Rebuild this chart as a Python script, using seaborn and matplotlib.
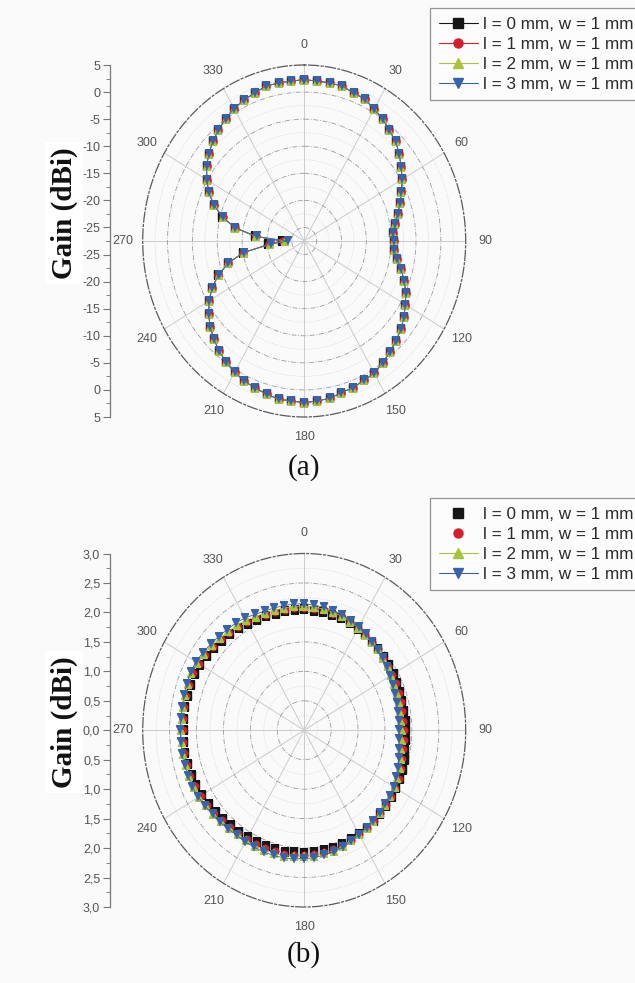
import numpy as np
import pandas as pd
import matplotlib
matplotlib.use("Agg")
import matplotlib.pyplot as plt
from matplotlib.lines import Line2D
import seaborn as sns

# Azimuth of every sample, degrees (clockwise from the top)
angles_deg = list(range(0, 360, 5))

# ---- panel (a): gain in dBi ----
gain_a_l0 = [2.30, 2.15, 2.15, 2.10, 1.60, 1.40, 0.60, 0.00, -0.80, -1.50,
             -2.50, -3.70, -4.70, -5.90, -7.00, -8.00, -9.00, -9.50, -9.50, -9.40,
             -8.50, -7.30, -6.10, -4.90, -4.00, -3.00, -2.10, -1.40, -0.70, 0.00,
             0.70, 0.90, 1.30, 1.50, 2.00, 2.15, 2.35, 2.15, 2.15, 1.80,
             1.35, 1.05, 0.50, -0.15, -0.90, -1.85, -2.80, -4.00, -5.40, -7.00,
             -9.10, -11.60, -15.00, -20.20, -23.00, -17.60, -13.30, -10.45, -8.15, -6.30,
             -4.90, -3.50, -2.45, -1.50, -0.65, 0.05, 0.75, 1.20, 1.60, 2.10,
             2.15, 2.15]
gain_a_l1 = [2.30, 2.15, 2.15, 2.10, 1.60, 1.40, 0.60, 0.00, -0.80, -1.50,
             -2.50, -3.70, -4.70, -5.90, -7.00, -8.00, -9.00, -9.50, -9.50, -9.40,
             -8.50, -7.30, -6.10, -4.90, -4.00, -3.00, -2.10, -1.40, -0.70, 0.00,
             0.70, 0.90, 1.30, 1.50, 2.00, 2.15, 2.35, 2.15, 2.15, 1.80,
             1.35, 1.05, 0.50, -0.15, -0.90, -1.85, -2.80, -4.00, -5.40, -7.05,
             -9.10, -11.60, -15.05, -20.40, -23.30, -17.70, -13.35, -10.50, -8.20, -6.30,
             -4.90, -3.50, -2.45, -1.50, -0.65, 0.05, 0.75, 1.20, 1.60, 2.10,
             2.15, 2.15]
gain_a_l2 = [2.30, 2.15, 2.15, 2.10, 1.60, 1.40, 0.60, 0.00, -0.80, -1.50,
             -2.50, -3.70, -4.70, -5.90, -7.00, -8.00, -9.00, -9.50, -9.50, -9.40,
             -8.50, -7.30, -6.10, -4.90, -4.00, -3.00, -2.10, -1.40, -0.70, 0.00,
             0.70, 0.90, 1.30, 1.50, 2.00, 2.15, 2.35, 2.15, 2.15, 1.80,
             1.35, 1.05, 0.50, -0.15, -0.90, -1.85, -2.80, -4.00, -5.40, -7.05,
             -9.15, -11.65, -15.10, -20.55, -23.70, -17.80, -13.40, -10.50, -8.20, -6.30,
             -4.90, -3.50, -2.45, -1.50, -0.65, 0.05, 0.75, 1.20, 1.60, 2.10,
             2.15, 2.15]
gain_a_l3 = [2.30, 2.15, 2.15, 2.10, 1.60, 1.40, 0.60, 0.00, -0.80, -1.50,
             -2.50, -3.70, -4.70, -5.90, -7.00, -8.00, -9.00, -9.50, -9.50, -9.40,
             -8.50, -7.30, -6.10, -4.90, -4.00, -3.00, -2.10, -1.40, -0.70, 0.00,
             0.70, 0.90, 1.30, 1.50, 2.00, 2.15, 2.35, 2.15, 2.15, 1.80,
             1.35, 1.05, 0.50, -0.15, -0.90, -1.85, -2.80, -4.00, -5.40, -7.05,
             -9.15, -11.65, -15.10, -20.70, -24.20, -17.90, -13.40, -10.50, -8.20, -6.30,
             -4.90, -3.50, -2.45, -1.50, -0.65, 0.05, 0.75, 1.20, 1.60, 2.10,
             2.15, 2.15]

# ---- panel (b): gain in dBi ----
gain_b_l0 = [2.05, 2.04, 2.04, 2.03, 2.02, 2.01, 1.99, 1.98, 1.96, 1.95,
             1.94, 1.93, 1.92, 1.91, 1.90, 1.89, 1.89, 1.89, 1.89, 1.90,
             1.91, 1.93, 1.95, 1.96, 1.97, 1.98, 1.99, 2.00, 2.01, 2.02,
             2.03, 2.04, 2.06, 2.07, 2.07, 2.08, 2.08, 2.08, 2.09, 2.09,
             2.09, 2.09, 2.10, 2.10, 2.11, 2.13, 2.15, 2.17, 2.19, 2.21,
             2.22, 2.23, 2.24, 2.24, 2.24, 2.24, 2.24, 2.24, 2.24, 2.24,
             2.23, 2.21, 2.18, 2.15, 2.13, 2.11, 2.09, 2.07, 2.06, 2.05,
             2.05, 2.05]
gain_b_l1 = [2.08, 2.07, 2.07, 2.05, 2.04, 2.02, 2.00, 1.98, 1.96, 1.94,
             1.92, 1.91, 1.89, 1.88, 1.87, 1.86, 1.85, 1.85, 1.85, 1.86,
             1.87, 1.89, 1.92, 1.94, 1.95, 1.97, 1.98, 1.99, 2.01, 2.02,
             2.04, 2.05, 2.08, 2.09, 2.10, 2.11, 2.11, 2.12, 2.13, 2.13,
             2.13, 2.13, 2.13, 2.13, 2.14, 2.16, 2.18, 2.20, 2.22, 2.24,
             2.25, 2.25, 2.26, 2.26, 2.26, 2.26, 2.26, 2.27, 2.27, 2.28,
             2.26, 2.24, 2.21, 2.18, 2.16, 2.14, 2.12, 2.10, 2.09, 2.08,
             2.08, 2.08]
gain_b_l2 = [2.11, 2.10, 2.09, 2.07, 2.06, 2.03, 2.01, 1.98, 1.95, 1.94,
             1.91, 1.89, 1.87, 1.85, 1.84, 1.82, 1.81, 1.81, 1.81, 1.82,
             1.83, 1.86, 1.89, 1.91, 1.94, 1.95, 1.97, 1.99, 2.00, 2.02,
             2.04, 2.06, 2.09, 2.12, 2.12, 2.14, 2.14, 2.15, 2.16, 2.16,
             2.16, 2.16, 2.16, 2.15, 2.16, 2.18, 2.20, 2.22, 2.25, 2.26,
             2.27, 2.27, 2.28, 2.28, 2.28, 2.28, 2.28, 2.29, 2.30, 2.31,
             2.29, 2.27, 2.24, 2.21, 2.19, 2.18, 2.16, 2.13, 2.12, 2.11,
             2.11, 2.11]
gain_b_l3 = [2.15, 2.13, 2.12, 2.10, 2.08, 2.05, 2.02, 1.99, 1.95, 1.93,
             1.90, 1.87, 1.84, 1.82, 1.80, 1.78, 1.77, 1.76, 1.76, 1.77,
             1.79, 1.82, 1.86, 1.89, 1.92, 1.94, 1.96, 1.98, 2.00, 2.02,
             2.05, 2.07, 2.11, 2.14, 2.15, 2.17, 2.18, 2.19, 2.20, 2.20,
             2.20, 2.19, 2.19, 2.18, 2.19, 2.21, 2.22, 2.25, 2.27, 2.29,
             2.29, 2.30, 2.31, 2.30, 2.30, 2.30, 2.30, 2.31, 2.32, 2.33,
             2.32, 2.30, 2.27, 2.25, 2.23, 2.22, 2.20, 2.17, 2.15, 2.15,
             2.15, 2.15]

series_labels = ["l = 0 mm, w = 1 mm", "l = 1 mm, w = 1 mm",
                 "l = 2 mm, w = 1 mm", "l = 3 mm, w = 1 mm"]
series_colors = ["#161616", "#d3202c", "#a9c43a", "#3a62a8"]
series_markers = ["s", "o", "^", "v"]

# angular tick labels
theta_ticks_deg = [0, 30, 60, 90, 120, 150, 180, 210, 240, 270, 300, 330]
theta_tick_labels = ["0", "30", "60", "90", "120", "150",
                     "180", "210", "240", "270", "300", "330"]

# radial scale of panel (a)
a_rmin, a_rmax = -27.5, 5.0
a_rings = [-25, -20, -15, -10, -5, 0]
a_minor_rings = [-22.5, -17.5, -12.5, -7.5, -2.5, 2.5]
a_scale_values = [5, 0, -5, -10, -15, -20, -25]
a_scale_labels = ["5", "0", "-5", "-10", "-15", "-20", "-25"]

# radial scale of panel (b)
b_rmin, b_rmax = 0.0, 3.0
b_rings = [0.5, 1.0, 1.5, 2.0, 2.5]
b_minor_rings = [0.25, 0.75, 1.25, 1.75, 2.25, 2.75]
b_scale_values = [3.0, 2.5, 2.0, 1.5, 1.0, 0.5]
b_scale_labels = ["3,0", "2,5", "2,0", "1,5", "1,0", "0,5"]
b_center_label = "0,0"

BG = "#fafafa"
W, H = 635.0, 983.0

sns.set_theme(style="white")
plt.rcParams["font.family"] = ["Liberation Sans", "DejaVu Sans"]

fig = plt.figure(figsize=(6.35, 9.83), dpi=100, facecolor=BG)


def px_rect(x0, y0, x1, y1):
    return [x0 / W, 1 - y1 / H, (x1 - x0) / W, (y1 - y0) / H]


def polar_panel(rect, series, rmin, rmax, rings, minor_rings, with_lines):
    ax = fig.add_axes(rect, projection="polar")
    ax.set_aspect("auto")
    ax.set_facecolor("none")
    ax.set_theta_zero_location("N")
    ax.set_theta_direction(-1)

    thetas = np.deg2rad(angles_deg + [360])
    for vals, color, marker, label, line in zip(series, series_colors, series_markers,
                                                series_labels, with_lines):
        df = pd.DataFrame({"theta": thetas, "gain": vals + vals[:1]})
        if line:
            sns.lineplot(data=df, x="theta", y="gain", ax=ax, sort=False, estimator=None,
                         color=color, linewidth=0.6, marker=marker, markersize=5.8,
                         markeredgecolor=color, markeredgewidth=0.3)
        else:
            sns.scatterplot(data=df.iloc[:-1], x="theta", y="gain", ax=ax, color=color,
                            marker=marker, s=28, edgecolor=color, linewidth=0.3)

    ax.set_ylim(rmin, rmax)
    ax.set_xlabel("")
    ax.set_ylabel("")
    ax.set_yticks(rings)
    ax.set_yticks(minor_rings, minor=True)
    ax.set_yticklabels([])
    ax.yaxis.grid(True, which="major", color="#9a9aa8", linestyle=(0, (6, 2, 1, 2)),
                  linewidth=0.6)
    ax.yaxis.grid(True, which="minor", color="#c8c8d4", linestyle=(0, (1, 2)),
                  linewidth=0.5)
    ax.set_xticks(np.deg2rad(theta_ticks_deg))
    ax.set_xticklabels(theta_tick_labels, fontsize=9, color="#555555")
    ax.tick_params(axis="x", pad=1.5)
    ax.xaxis.grid(True, color="#cccccc", linestyle="-", linewidth=0.7)
    ax.spines["polar"].set_linestyle((0, (8, 2, 1.5, 2)))
    ax.spines["polar"].set_color("#5a5a5a")
    ax.spines["polar"].set_linewidth(0.9)
    return ax


def radial_scale(rect_y0, rect_y1, rmin, rmax, values, labels, minors, center_label=None):
    span = rmax - rmin
    sax = fig.add_axes(px_rect(110, rect_y0, 110.5, rect_y1))
    sax.set_facecolor("none")
    sax.set_ylim(-span, span)
    pos = [v - rmin for v in values] + [-(v - rmin) for v in values]
    labs = list(labels) + list(labels)
    if center_label is not None:
        pos.append(0.0)
        labs.append(center_label)
    sax.set_yticks(pos)
    sax.set_yticklabels(labs)
    mpos = [m - rmin for m in minors] + [-(m - rmin) for m in minors]
    sax.set_yticks(mpos, minor=True)
    sax.set_xticks([])
    for side in ["top", "right", "bottom"]:
        sax.spines[side].set_visible(False)
    sax.spines["left"].set_color("#777777")
    sax.spines["left"].set_linewidth(0.9)
    sax.tick_params(axis="y", which="major", direction="out", length=5, width=0.8,
                    color="#777777", labelsize=9, labelcolor="#555555", pad=2, left=True)
    sax.tick_params(axis="y", which="minor", direction="out", length=3, width=0.6,
                    color="#777777", left=True)
    return sax


def make_legend(y_top, line_flags):
    handles = []
    for color, marker, line in zip(series_colors, series_markers, line_flags):
        handles.append(Line2D([], [], color=color, marker=marker, markersize=6.5,
                              linewidth=0.8 if line else 0, markeredgecolor=color))
    leg = fig.legend(handles, series_labels, loc="upper left",
                     bbox_to_anchor=(430 / W, 1 - y_top / H), frameon=True,
                     fancybox=False, edgecolor="#7a7a7a", facecolor="#fdfdfd",
                     fontsize=12.3, handlelength=2.3, handletextpad=0.3,
                     borderpad=0.5, labelspacing=0.3, borderaxespad=0)
    leg.get_frame().set_linewidth(0.9)
    for t in leg.get_texts():
        t.set_color("#2a2a2a")
    return leg


# panel (a)
ax_a = polar_panel(px_rect(142.7, 65, 465.7, 417),
                   [gain_a_l0, gain_a_l1, gain_a_l2, gain_a_l3],
                   a_rmin, a_rmax, a_rings, a_minor_rings, [True, True, True, True])
radial_scale(65, 417, a_rmin, a_rmax, a_scale_values, a_scale_labels,
             [2.5, -2.5, -7.5, -12.5, -17.5, -22.5, -27.5])
make_legend(8, [True, True, True, True])

# panel (b)
ax_b = polar_panel(px_rect(142.7, 553.5, 465.7, 907),
                   [gain_b_l0, gain_b_l1, gain_b_l2, gain_b_l3],
                   b_rmin, b_rmax, b_rings, b_minor_rings, [False, False, True, True])
radial_scale(553.5, 907, b_rmin, b_rmax, b_scale_values, b_scale_labels,
             [2.75, 2.25, 1.75, 1.25, 0.75, 0.25], center_label=b_center_label)
make_legend(498, [False, False, True, True])

# axis titles and panel tags
for yc in (213, 722):
    fig.text(64 / W, 1 - yc / H, "Gain (dBi)", rotation=90, ha="center", va="center",
             fontsize=21, fontweight="bold", family=["Liberation Serif", "DejaVu Serif"],
             color="#111111",
             bbox=dict(facecolor="white", edgecolor="none", pad=4))
fig.text(304 / W, 1 - 468 / H, "(a)", ha="center", va="center", fontsize=21,
         family=["Liberation Serif", "DejaVu Serif"], color="#111111")
fig.text(304 / W, 1 - 955 / H, "(b)", ha="center", va="center", fontsize=21,
         family=["Liberation Serif", "DejaVu Serif"], color="#111111")

fig.savefig("out.png", dpi=100, facecolor=BG)
